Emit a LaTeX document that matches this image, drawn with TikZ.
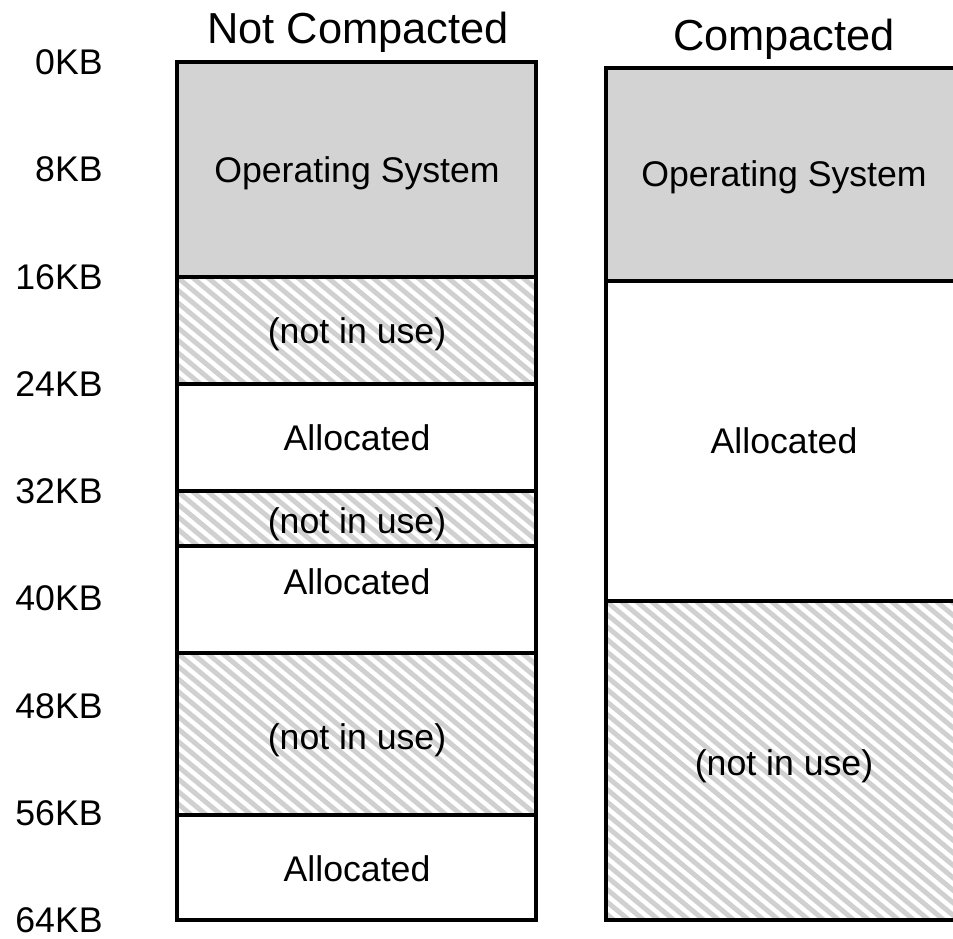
\documentclass[tikz,border=0pt]{standalone}
\usepackage{fontspec}
\setmainfont{Liberation Sans}
\usetikzlibrary{positioning,calc}
\definecolor{osgray}{RGB}{211,211,211}
\definecolor{hatchgray}{RGB}{208,208,208}
% free (not in use) area: x1,y1,x2,y2
\newcommand{\freearea}[4]{%
  \begin{scope}
    \clip (#1,#2) rectangle (#3,#4);
    \foreach \k in {-30,...,26}
      \draw[hatchgray,line width=2.8pt] ({#1+\k*15},#2) -- ++({1.2*(#4-#2)},{#4-#2});
  \end{scope}}

\begin{document}
\begin{tikzpicture}[x=0.02cm,y=-0.02cm,
    box/.style={draw=black,line width=1.9pt},
    txt/.style={font=\fontsize{20.3}{24}\selectfont,inner sep=0pt,text depth=0pt},
    ttl/.style={font=\fontsize{24.7}{29}\selectfont,inner sep=0pt,text depth=0pt}]
  \useasboundingbox (0,0) rectangle (953,939);

  % not compacted
  \fill[osgray] (177,62) rectangle (536,277);
  \freearea{177}{277}{536}{384}
  \freearea{177}{491}{536}{546}
  \freearea{177}{653}{536}{815}
  \draw[box] (177,62) rectangle (536,920);
  \foreach \y in {277,384,491,546,653,815}
    \draw[box] (177,\y) -- (536,\y);

  \node[ttl] (titleNC) at (358,27.5) {Not Compacted};
  \node[txt] (osNC) at (357,170) {Operating System};
  \node[txt] (freeNC1) at (357,331) {(not in use)};
  \node[txt] (allocNC1) at (357,438) {Allocated};
  \node[txt] (freeNC2) at (357,521) {(not in use)};
  \node[txt] (allocNC2) at (357,582) {Allocated};
  \node[txt] (freeNC3) at (357,737) {(not in use)};
  \node[txt] (allocNC3) at (357,869) {Allocated};

  \foreach \kb in {0,8,...,64}
    \node[txt,anchor=east] (kb\kb) at (103,{62+\kb*13.41}) {\kb KB};

  % compacted
  \fill[osgray] (606,68) rectangle (965,281);
  \freearea{606}{601}{965}{920}
  \draw[box] (606,68) rectangle (965,920);
  \foreach \y in {281,601}
    \draw[box] (606,\y) -- (965,\y);

  \node[ttl] (titleC) at (784,35) {Compacted};
  \node[txt] (osC) at (784,174) {Operating System};
  \node[txt] (allocC) at (784,441) {Allocated};
  \node[txt] (freeC) at (784,763) {(not in use)};
\end{tikzpicture}
\end{document}
